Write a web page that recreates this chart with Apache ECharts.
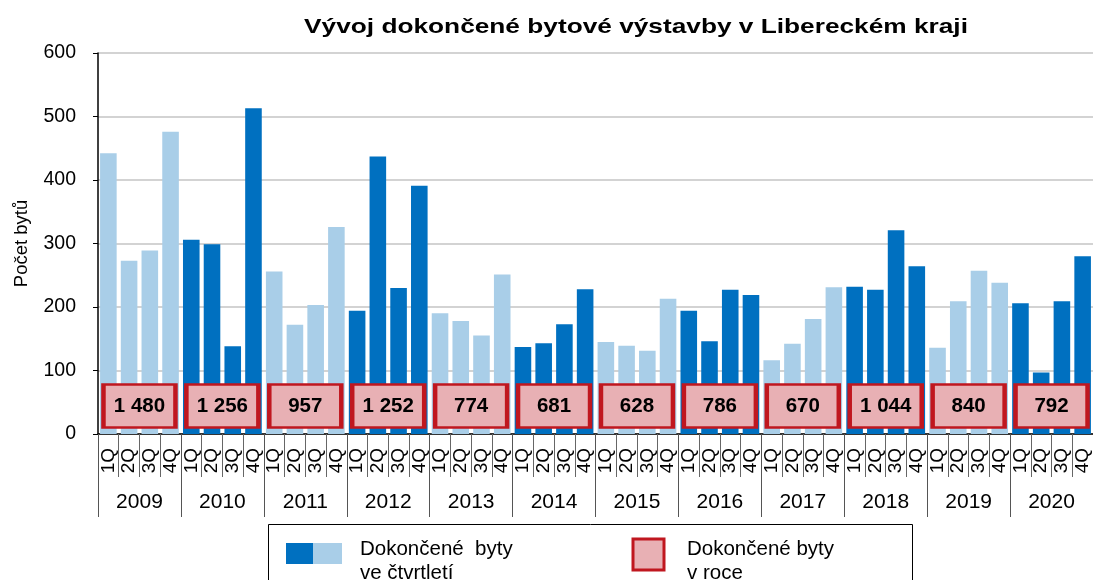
<!DOCTYPE html>
<html>
<head>
<meta charset="utf-8">
<script src="https://cdn.jsdelivr.net/npm/echarts@6/dist/echarts.min.js"></script>
<style>
html,body{margin:0;padding:0;background:#fff;}
#chart{width:1093px;height:580px;}
</style>
</head>
<body>
<div id="chart"></div>
<script>
const years = ['2009','2010','2011','2012','2013','2014','2015','2016','2017','2018','2019','2020'];
const quarters = ['1Q','2Q','3Q','4Q'];
const quarterly = [
  442,273,289,476,
  306,299,138,513,
  256,172,203,326,
  194,437,230,391,
  190,178,155,251,
  137,143,173,228,
  145,139,131,213,
  194,146,227,219,
  116,142,181,231,
  232,227,321,264,
  136,209,257,238,
  206,97,209,280
];
const annual = [1480,1256,957,1252,774,681,628,786,670,1044,840,792];
const yTicks = [0,100,200,300,400,500,600];

const DARK = '#0070C0';
const LIGHT = '#A9CEE8';
const PINK = '#E8B0B4';
const RED = '#C0171F';
const FONT = '"Liberation Sans", Arial, sans-serif';

const catLabels = [];
years.forEach(y => quarters.forEach(q => catLabels.push(q)));

const barData = quarterly.map((v, i) => ({
  value: v,
  itemStyle: { color: (Math.floor(i / 4) % 2 === 0) ? LIGHT : DARK }
}));

function fmt(n) {
  return String(n).replace(/\B(?=(\d{3})+(?!\d))/g, ' ');
}

const chart = echarts.init(document.getElementById('chart'), null, { renderer: 'canvas' });
chart.setOption({
  animation: false,
  textStyle: { fontFamily: FONT },
  grid: { left: 98, top: 53, width: 998, height: 381, containLabel: false },
  xAxis: [
    {
      type: 'category',
      data: catLabels,
      position: 'bottom',
      axisLine: { show: true, lineStyle: { color: '#000', width: 1.5 } },
      axisTick: { show: true, interval: 0, length: 43, lineStyle: { color: '#666', width: 1 } },
      axisLabel: { interval: 0, rotate: 90, margin: 14, fontSize: 19, color: '#000', fontFamily: FONT },
      splitLine: { show: false }
    },
    {
      type: 'category',
      data: years,
      position: 'bottom',
      axisLine: { show: false },
      axisTick: { show: true, interval: 0, length: 83, lineStyle: { color: '#555', width: 1 } },
      axisLabel: { interval: 0, margin: 58, fontSize: 21, color: '#000', fontFamily: FONT },
      splitLine: { show: false }
    }
  ],
  yAxis: {
    type: 'value',
    min: yTicks[0],
    max: yTicks[yTicks.length - 1],
    interval: 100,
    name: 'Počet bytů',
    nameLocation: 'middle',
    nameGap: 67,
    nameTextStyle: { fontSize: 18.5, color: '#000', fontFamily: FONT },
    axisLine: { show: true, lineStyle: { color: '#000', width: 1.5 } },
    axisTick: { show: true, length: 5, lineStyle: { color: '#000' } },
    axisLabel: { margin: 22, fontSize: 19.5, color: '#000', fontFamily: FONT },
    splitLine: { show: true, lineStyle: { color: '#C4C4C4', width: 1.5 } }
  },
  series: [
    {
      name: 'Dokončené byty ve čtvrtletí',
      type: 'bar',
      xAxisIndex: 0,
      data: barData,
      barCategoryGap: '20%',
      z: 2
    },
    {
      name: 'Dokončené byty v roce',
      type: 'scatter',
      xAxisIndex: 1,
      yAxisIndex: 0,
      clip: false,
      data: annual.map((t, i) => [i, 0, t]),
      symbol: 'rect',
      symbolSize: [72, 43],
      symbolOffset: [0, -28],
      itemStyle: { color: PINK, borderColor: RED, borderWidth: 3.5, opacity: 1 },
      label: {
        show: true,
        position: 'inside',
        formatter: p => fmt(p.value[2]),
        fontSize: 20.5,
        fontWeight: 'bold',
        color: '#000',
        fontFamily: FONT
      },
      z: 5
    }
  ],
  graphic: [
    {
      type: 'text',
      x: 636, y: 27,
      scaleX: 1.25,
      style: {
        x: 0, y: 0,
        text: 'Vývoj dokončené bytové výstavby v Libereckém kraji',
        font: 'bold 21px ' + FONT,
        fill: '#000',
        align: 'center',
        verticalAlign: 'middle'
      }
    },
    {
      type: 'rect',
      shape: { x: 268.5, y: 524.5, width: 644, height: 80 },
      style: { fill: '#fff', stroke: '#000', lineWidth: 1 }
    },
    {
      type: 'rect',
      shape: { x: 286, y: 543, width: 27, height: 21 },
      style: { fill: DARK }
    },
    {
      type: 'rect',
      shape: { x: 313, y: 543, width: 29, height: 21 },
      style: { fill: LIGHT }
    },
    {
      type: 'text',
      style: {
        x: 360, y: 537,
        text: 'Dokončené  byty\nve čtvrtletí',
        font: '20.5px ' + FONT,
        lineHeight: 24,
        fill: '#000',
        verticalAlign: 'top'
      }
    },
    {
      type: 'rect',
      shape: { x: 633, y: 539, width: 31, height: 31 },
      style: { fill: PINK, stroke: RED, lineWidth: 3 }
    },
    {
      type: 'text',
      style: {
        x: 687, y: 537,
        text: 'Dokončené byty\nv roce',
        font: '20.5px ' + FONT,
        lineHeight: 24,
        fill: '#000',
        verticalAlign: 'top'
      }
    }
  ]
});
</script>
</body>
</html>
